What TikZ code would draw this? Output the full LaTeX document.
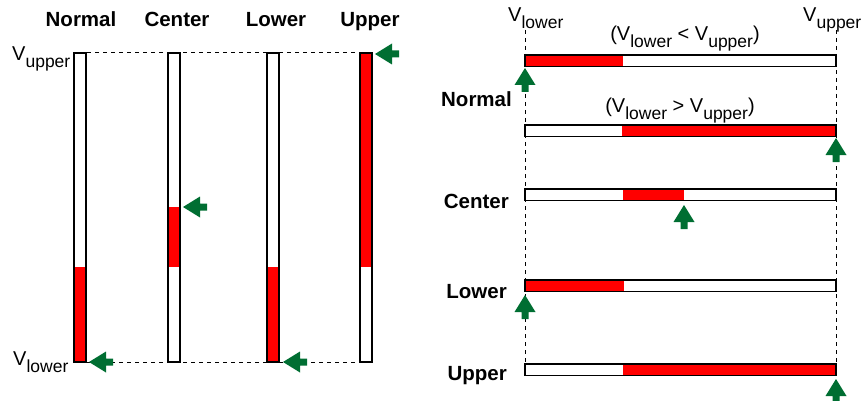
\documentclass[tikz,border=0pt]{standalone}
\usepackage{fontspec}
\setmainfont{Liberation Sans}
\definecolor{arrowgreen}{RGB}{0,110,50}
\definecolor{barred}{RGB}{255,0,0}
\tikzstyle{bar} = [draw=black, line width=1.8pt]
\tikzstyle{guide} = [dash pattern=on 4pt off 4pt, line width=1pt]
\tikzstyle{mode} = [font=\fontsize{20.5}{20.5}\selectfont\bfseries, inner sep=0pt]
\tikzstyle{volt} = [font=\fontsize{20}{20}\selectfont, inner sep=0pt]
\newcommand{\Vsub}[1]{V\raisebox{-7pt}{\fontsize{17.5}{18}\selectfont #1}}
\newcommand{\garrowleft}[2]{\fill[arrowgreen] (#1,#2) -- ++(17,-10.5) -- ++(0,7) -- ++(7,0) -- ++(0,7) -- ++(-7,0) -- ++(0,7) -- cycle;}
\newcommand{\garrowup}[2]{\fill[arrowgreen] (#1,#2) -- ++(-10.5,17) -- ++(7,0) -- ++(0,7) -- ++(7,0) -- ++(0,-7) -- ++(7,0) -- cycle;}

\begin{document}
\begin{tikzpicture}[x=1pt, y=-1pt]
    \useasboundingbox (0,0) rectangle (867,401);

    % Left: vertical bars
    \coordinate (topleft) at (87,53);
    \coordinate (topright) at (360,53);
    \coordinate (botleft) at (87,362);
    \coordinate (botright) at (360,362);
    \draw[guide] (topleft) -- (topright);
    \draw[guide] (botleft) -- (botright);
    \foreach \xa/\ra/\rb in {74/267/362, 168/207/267, 267/267/362, 360/53/267} {
        \fill[white] (\xa,53) rectangle (\xa+12,362);
        \fill[barred] (\xa,\ra) rectangle (\xa+12,\rb);
        \draw[bar] (\xa,53) rectangle (\xa+12,362);
    }
    \garrowleft{375}{54}
    \garrowleft{183}{207}
    \garrowleft{89}{362}
    \garrowleft{283}{362}

    \node[mode, anchor=base] (lnormal) at (81,27) {Normal};
    \node[mode, anchor=base] (lcenter) at (177,27) {Center};
    \node[mode, anchor=base] (llower) at (276,27) {Lower};
    \node[mode, anchor=base] (lupper) at (370,27) {Upper};
    \node[volt, anchor=base west] (lvupper) at (12,61) {\Vsub{upper}};
    \node[volt, anchor=base west] (lvlower) at (13,365) {\Vsub{lower}};

    % Right: horizontal bars
    \node[volt, anchor=base west] (rvlower) at (508,22) {\Vsub{lower}};
    \node[volt, anchor=base west] (rvupper) at (803,22) {\Vsub{upper}};
    \coordinate (lowtop) at (525,30);
    \coordinate (lowbot) at (525,364);
    \coordinate (uptop) at (836,30);
    \coordinate (upbot) at (836,364);
    \draw[guide] (lowtop) -- (lowbot);
    \draw[guide] (uptop) -- (upbot);
    \foreach \ya/\ra/\rb in {55/525/623, 125/622/836, 189/623/684, 280/525/624, 364/623/836} {
        \fill[white] (525,\ya) rectangle (836,\ya+11.5);
        \fill[barred] (\ra,\ya) rectangle (\rb,\ya+11.5);
        \draw[bar] (525,\ya) rectangle (836,\ya+11.5);
    }
    \garrowup{525}{68}
    \garrowup{836}{138}
    \garrowup{684}{205}
    \garrowup{525}{295}
    \garrowup{836}{379}

    \node[volt, anchor=base] (less) at (685,41) {(\Vsub{lower} < \Vsub{upper})};
    \node[volt, anchor=base] (more) at (680,113) {(\Vsub{lower} > \Vsub{upper})};
    \node[mode, anchor=base east] (rnormal) at (512,107) {Normal};
    \node[mode, anchor=base east] (rcenter) at (509,208) {Center};
    \node[mode, anchor=base east] (rlower) at (507,298) {Lower};
    \node[mode, anchor=base east] (rupper) at (507,380) {Upper};
\end{tikzpicture}
\end{document}
